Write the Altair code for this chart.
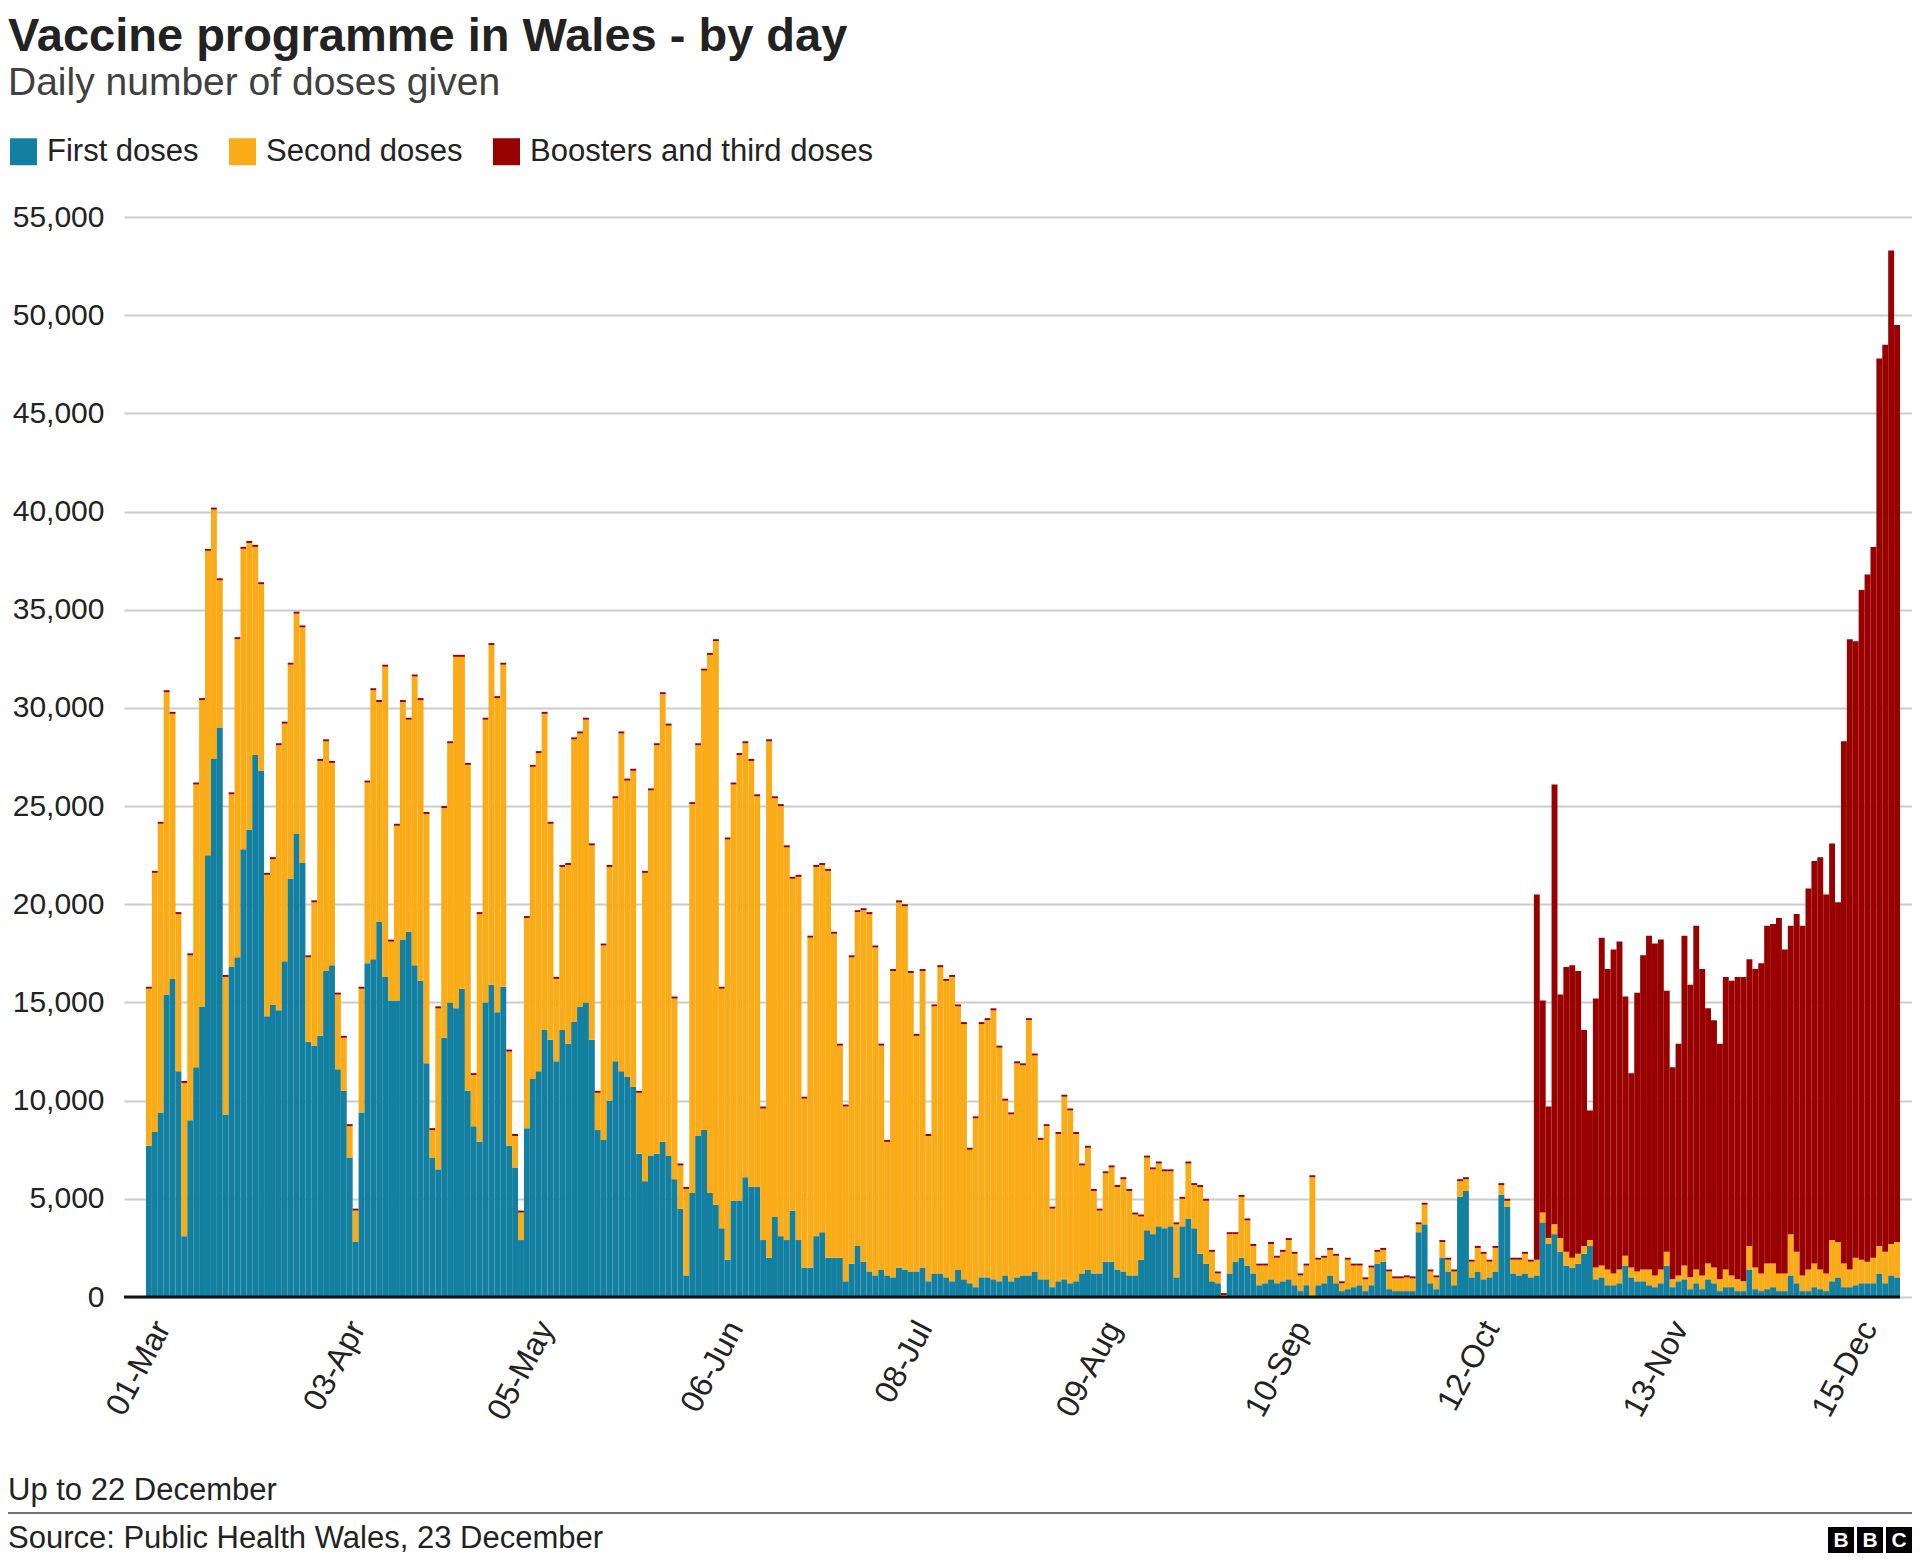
import altair as alt
import pandas as pd

FONT = "Liberation Sans"

title_text = "Vaccine programme in Wales - by day"
subtitle_text = "Daily number of doses given"
note_text = "Up to 22 December"
source_text = "Source: Public Health Wales, 23 December"
logo_letters = ["B", "B", "C"]

series_names = ["First doses", "Second doses", "Boosters and third doses"]
series_colors = ["#1380A1", "#FAAB18", "#990000"]

# day index 0 = 01-Mar-2021
tick_days = [0, 33, 65, 97, 129, 161, 193, 225, 257, 289]
tick_labels = ["01-Mar", "03-Apr", "05-May", "06-Jun", "08-Jul",
               "09-Aug", "10-Sep", "12-Oct", "13-Nov", "15-Dec"]
y_ticks = [0, 5000, 10000, 15000, 20000, 25000, 30000, 35000, 40000, 45000, 50000, 55000]

# daily doses, thousands
first_k = [
    7.7, 8.4, 9.4, 15.4, 16.2, 11.5, 3.1, 9.0, 11.7, 14.8,
    22.5, 27.4, 29.0, 9.3, 16.8, 17.3, 22.8, 23.8, 27.6, 26.8,
    14.3, 14.9, 14.6, 17.1, 21.3, 23.6, 22.1, 13.0, 12.8, 13.3,
    16.6, 16.9, 11.6, 10.5, 7.1, 2.8, 9.4, 17.0, 17.2, 19.1,
    16.3, 15.1, 15.1, 18.2, 18.6, 16.9, 16.1, 11.9, 7.1, 6.5,
    13.2, 15.0, 14.7, 15.7, 10.5, 8.7, 7.9, 15.0, 15.9, 14.5,
    15.8, 7.7, 6.6, 2.9, 8.6, 11.1, 11.5, 13.6, 13.1, 12.0,
    13.6, 12.9, 14.0, 14.8, 15.0, 13.1, 8.5, 8.0, 10.0, 12.0,
    11.5, 11.2, 10.7, 7.3, 5.9, 7.2, 7.3, 7.9, 7.2, 6.0,
    4.5, 1.1, 5.3, 8.2, 8.5, 5.3, 4.7, 3.5, 1.9, 4.9,
    4.9, 6.1, 5.6, 5.6, 2.9, 2.0, 4.1, 3.1, 2.9, 4.4,
    2.9, 1.5, 1.5, 3.1, 3.3, 2.0, 2.0, 2.0, 0.8, 1.7,
    2.6, 1.8, 1.3, 1.1, 1.4, 1.1, 1.0, 1.5, 1.4, 1.3,
    1.3, 1.5, 0.8, 1.2, 1.2, 1.0, 0.8, 1.4, 0.9, 0.7,
    0.5, 1.0, 1.0, 0.9, 0.8, 1.1, 0.8, 1.0, 1.1, 1.1,
    1.3, 0.9, 0.9, 0.5, 0.8, 0.9, 0.7, 0.8, 1.2, 1.4,
    1.2, 1.2, 1.8, 1.8, 1.4, 1.3, 1.1, 1.1, 1.9, 3.4,
    3.2, 3.6, 3.5, 3.6, 1.0, 3.6, 4.0, 3.5, 2.2, 1.7,
    0.8, 0.7, 0.05, 1.2, 1.8, 2.0, 1.6, 1.2, 0.6, 0.7,
    0.9, 0.7, 0.8, 0.9, 0.6, 0.3, 0.6, 0.05, 0.6, 0.7,
    1.1, 0.7, 0.3, 0.4, 0.5, 0.6, 0.3, 0.6, 1.7, 1.8,
    0.4, 0.3, 0.3, 0.3, 0.3, 3.3, 3.7, 0.7, 0.4, 2.0,
    1.3, 0.6, 5.1, 5.4, 1.0, 1.3, 0.9, 1.0, 1.3, 5.2,
    4.6, 1.2, 1.1, 1.2, 1.0, 1.1, 3.8, 2.7, 3.2, 2.3,
    1.6, 1.5, 1.7, 2.2, 2.6, 0.9, 1.0, 0.6, 0.6, 0.7,
    1.6, 1.0, 0.8, 0.8, 0.6, 0.5, 0.7, 1.6, 0.5, 0.8,
    0.9, 0.4, 0.7, 0.4, 0.9, 0.7, 0.3, 0.5, 0.5, 0.3,
    0.3, 1.4, 0.4, 0.3, 0.4, 0.5, 0.3, 0.3, 1.1, 0.7,
    0.3, 0.3, 0.5, 0.4, 0.3, 0.8, 1.0, 0.5, 0.5, 0.6,
    0.7, 0.7, 0.7, 1.2, 0.7, 1.1, 1.0,
]

second_k = [
    8.0, 13.2, 14.7, 15.4, 13.5, 8.0, 7.8, 8.4, 14.4, 15.6,
    15.5, 12.7, 7.5, 7.0, 8.8, 16.2, 15.3, 14.6, 10.6, 9.5,
    7.2, 7.4, 13.5, 12.1, 10.9, 11.2, 12.0, 4.3, 7.3, 14.0,
    11.7, 10.3, 3.8, 2.7, 1.6, 1.6, 6.3, 9.2, 13.7, 11.2,
    15.8, 3.0, 8.9, 12.1, 10.8, 14.7, 14.3, 12.7, 1.4, 8.2,
    11.7, 13.2, 17.9, 16.9, 16.6, 2.6, 11.6, 14.4, 17.3, 16.0,
    16.4, 4.8, 1.6, 1.4, 10.7, 15.9, 16.2, 16.1, 11.0, 4.2,
    8.3, 9.1, 14.4, 13.9, 14.4, 9.9, 1.9, 9.9, 11.9, 13.4,
    17.2, 15.1, 16.1, 3.1, 15.7, 18.6, 20.8, 22.8, 21.9, 9.2,
    2.2, 4.4, 19.8, 19.9, 23.4, 27.4, 28.7, 12.2, 21.4, 21.2,
    22.7, 22.1, 21.7, 19.9, 6.7, 26.3, 21.3, 21.9, 20.0, 16.9,
    18.5, 8.6, 16.8, 18.8, 18.7, 19.7, 16.5, 10.8, 8.9, 15.6,
    17.0, 17.9, 18.2, 16.7, 11.4, 6.8, 15.6, 18.6, 18.5, 15.2,
    12.0, 15.1, 7.4, 13.6, 15.6, 15.1, 15.5, 13.4, 13.0, 6.8,
    8.6, 12.9, 13.1, 13.7, 11.9, 8.9, 8.5, 10.9, 10.7, 13.0,
    11.0, 7.1, 7.8, 4.0, 7.5, 9.3, 8.8, 7.5, 5.5, 6.2,
    4.2, 3.2, 4.5, 4.8, 4.2, 4.7, 4.3, 3.1, 2.2, 3.7,
    3.3, 3.2, 2.9, 2.8, 2.7, 1.4, 2.8, 2.2, 3.4, 3.2,
    1.5, 0.5, 0.05, 2.0, 1.4, 3.1, 2.3, 1.4, 1.0, 0.9,
    1.8, 1.3, 1.5, 2.0, 1.6, 0.8, 1.0, 6.05, 1.3, 1.3,
    1.3, 1.4, 0.4, 1.5, 1.1, 1.0, 0.6, 0.9, 0.6, 0.6,
    0.9, 0.65, 0.65, 0.7, 0.65, 0.4, 1.0, 0.6, 0.6, 0.8,
    0.6, 0.7, 0.8, 0.6, 0.8, 1.2, 1.3, 0.8, 1.2, 0.5,
    0.3, 0.7, 0.8, 1.0, 0.8, 0.8, 0.5, 0.3, 0.5, 0.7,
    0.7, 0.5, 0.5, 0.4, 0.3, 0.6, 0.6, 0.8, 0.6, 0.7,
    0.5, 0.5, 0.5, 0.6, 0.8, 0.6, 0.7, 0.7, 0.4, 0.3,
    0.7, 0.6, 0.7, 0.7, 0.8, 0.8, 0.6, 0.9, 0.6, 0.6,
    0.5, 1.2, 1.1, 0.9, 1.3, 1.2, 0.9, 0.9, 2.1, 1.6,
    0.8, 1.1, 1.2, 1.0, 0.9, 2.1, 1.8, 1.2, 0.9, 1.4,
    1.2, 1.1, 1.3, 1.4, 1.6, 1.6, 1.8,
]

booster_k = [
    0.1, 0.1, 0.1, 0.1, 0.1, 0.1, 0.1, 0.1, 0.1, 0.1,
    0.1, 0.1, 0.1, 0.1, 0.1, 0.1, 0.1, 0.1, 0.1, 0.1,
    0.1, 0.1, 0.1, 0.1, 0.1, 0.1, 0.1, 0.1, 0.1, 0.1,
    0.1, 0.1, 0.1, 0.1, 0.1, 0.1, 0.1, 0.1, 0.1, 0.1,
    0.1, 0.1, 0.1, 0.1, 0.1, 0.1, 0.1, 0.1, 0.1, 0.1,
    0.1, 0.1, 0.1, 0.1, 0.1, 0.1, 0.1, 0.1, 0.1, 0.1,
    0.1, 0.1, 0.1, 0.1, 0.1, 0.1, 0.1, 0.1, 0.1, 0.1,
    0.1, 0.1, 0.1, 0.1, 0.1, 0.1, 0.1, 0.1, 0.1, 0.1,
    0.1, 0.1, 0.1, 0.1, 0.1, 0.1, 0.1, 0.1, 0.1, 0.1,
    0.1, 0.1, 0.1, 0.1, 0.1, 0.1, 0.1, 0.1, 0.1, 0.1,
    0.1, 0.1, 0.1, 0.1, 0.1, 0.1, 0.1, 0.1, 0.1, 0.1,
    0.1, 0.1, 0.1, 0.1, 0.1, 0.1, 0.1, 0.1, 0.1, 0.1,
    0.1, 0.1, 0.1, 0.1, 0.1, 0.1, 0.1, 0.1, 0.1, 0.1,
    0.1, 0.1, 0.1, 0.1, 0.1, 0.1, 0.1, 0.1, 0.1, 0.1,
    0.1, 0.1, 0.1, 0.1, 0.1, 0.1, 0.1, 0.1, 0.1, 0.1,
    0.1, 0.1, 0.1, 0.1, 0.1, 0.1, 0.1, 0.1, 0.1, 0.1,
    0.1, 0.1, 0.1, 0.1, 0.1, 0.1, 0.1, 0.1, 0.1, 0.1,
    0.1, 0.1, 0.1, 0.1, 0.1, 0.1, 0.1, 0.1, 0.1, 0.1,
    0.1, 0.1, 0.1, 0.1, 0.1, 0.1, 0.1, 0.1, 0.1, 0.1,
    0.1, 0.1, 0.1, 0.1, 0.1, 0.1, 0.1, 0.1, 0.1, 0.1,
    0.1, 0.1, 0.1, 0.1, 0.1, 0.1, 0.1, 0.1, 0.1, 0.1,
    0.1, 0.1, 0.1, 0.1, 0.1, 0.1, 0.1, 0.1, 0.1, 0.1,
    0.1, 0.1, 0.1, 0.1, 0.1, 0.1, 0.1, 0.1, 0.1, 0.1,
    0.1, 0.1, 0.1, 0.1, 0.1, 18.6, 10.8, 6.7, 22.4, 12.4,
    14.5, 14.9, 14.4, 11.0, 6.6, 13.7, 16.7, 15.3, 16.5, 16.7,
    13.2, 9.9, 14.2, 16.0, 17.0, 16.9, 16.8, 13.3, 10.8, 11.8,
    16.8, 14.9, 17.5, 15.6, 13.0, 12.6, 12.0, 14.9, 15.0, 15.4,
    15.5, 14.6, 15.2, 15.8, 17.2, 17.3, 18.1, 16.5, 15.7, 17.2,
    17.8, 19.4, 20.5, 21.0, 19.3, 20.2, 17.3, 26.6, 32.1, 31.4,
    34.1, 35.0, 36.2, 45.2, 46.2, 50.6, 46.7,
]

# build stacked table (first at bottom, then second, then boosters)
n_days = len(first_k)
rows = []
for i in range(n_days):
    bottom = 0
    for k, vals in enumerate([first_k, second_k, booster_k]):
        v = round(vals[i] * 1000)
        rows.append({"day": i, "day_end": i + 1, "series": series_names[k],
                     "order": k, "doses": v, "y0": bottom, "y1": bottom + v})
        bottom += v
df = pd.DataFrame(rows)

# layout (pixels)
W, H = 1788, 1080
PAD_L, PAD_T, PAD_B = 116, 209, 257
X_DOMAIN = [-3.72, 299.03]

tick_pos = [d + 0.5 for d in tick_days]
label_expr = "[" + ",".join("'%s'" % t for t in tick_labels) + "][indexof([" + \
    ",".join(str(p) for p in tick_pos) + "], datum.value)]"

x_scale = alt.Scale(domain=X_DOMAIN, nice=False, zero=False)
y_scale = alt.Scale(domain=[0, 55000], nice=False)

bars = alt.Chart(df).mark_bar().encode(
    x=alt.X("day:Q", scale=x_scale,
            axis=alt.Axis(values=tick_pos, labelExpr=label_expr, labelAngle=298,
                          labelAlign="right", labelBaseline="middle",
                          labelFontSize=32, labelFont=FONT, labelColor="#222222",
                          labelPadding=26, labelOffset=13, ticks=False, domain=False,
                          grid=False, title=None, labelOverlap=False)),
    x2="day_end:Q",
    y=alt.Y("y0:Q", scale=y_scale,
            axis=alt.Axis(values=y_ticks, format=",.0f", labelFontSize=30, labelFont=FONT,
                          labelColor="#222222", labelPadding=20, ticks=False,
                          domain=False, grid=True, gridColor="#cbcbcb", gridWidth=2,
                          title=None)),
    y2="y1:Q",
    color=alt.Color("series:N",
                    scale=alt.Scale(domain=series_names, range=series_colors),
                    legend=alt.Legend(orient="none", legendX=-PAD_L, legendY=-81,
                                      direction="horizontal", title=None,
                                      symbolType="square", symbolSize=729,
                                      symbolStrokeWidth=0, symbolOpacity=1,
                                      labelFontSize=31, labelFont=FONT,
                                      labelColor="#222222", labelOffset=8,
                                      columnPadding=28, labelLimit=600)),
)

base_df = pd.DataFrame({"x0": [X_DOMAIN[0]], "x1": [n_days], "y0": [0]})
baseline = alt.Chart(base_df).mark_rule(color="#111111", strokeWidth=3).encode(
    x=alt.X("x0:Q", scale=x_scale), x2="x1:Q", y=alt.Y("y0:Q", scale=y_scale))


def text_layer(txt, x, y, size, weight="normal", color="#222222", align="left"):
    return alt.Chart(pd.DataFrame({"t": [txt]})).mark_text(
        align=align, baseline="alphabetic", fontSize=size, fontWeight=weight,
        font=FONT, color=color).encode(x=alt.value(x), y=alt.value(y), text="t:N")


title = text_layer(title_text, -PAD_L, -166, 47, weight="bold")
subtitle = text_layer(subtitle_text, -PAD_L, -122, 39, color="#404040")
note = text_layer(note_text, -PAD_L, 1283, 31)
source = text_layer(source_text, -PAD_L, 1331, 31)

footer_line = alt.Chart(pd.DataFrame({"a": [0]})).mark_rule(
    color="#444444", strokeWidth=1.5).encode(
    x=alt.value(-PAD_L), x2=alt.value(W), y=alt.value(1296))

logo_df = pd.DataFrame({"letter": logo_letters, "slot": [0, 1, 2]})
logo_box = alt.Chart(logo_df).mark_rect(color="#000000").encode(
    x=alt.X("px:Q", scale=None), x2=alt.X2("px2:Q"),
    y=alt.value(1310), y2=alt.value(1336)
).transform_calculate(px="1704 + datum.slot * 29", px2="1730 + datum.slot * 29")
logo_txt = alt.Chart(logo_df).mark_text(
    color="#ffffff", fontSize=21, fontWeight="bold", font=FONT,
    align="center", baseline="middle").encode(
    x=alt.X("px:Q", scale=None), y=alt.value(1324), text="letter:N"
).transform_calculate(px="1717 + datum.slot * 29")

chart = alt.layer(
    bars, baseline, title, subtitle, note, source, footer_line, logo_box, logo_txt
).properties(
    width=W, height=H,
    autosize=alt.AutoSizeParams(type="none"),
    padding={"left": PAD_L, "top": PAD_T, "right": 0, "bottom": PAD_B},
    background="#ffffff",
).configure_view(stroke=None)

chart.save("out.html", embed_options={"renderer": "svg", "actions": False})
